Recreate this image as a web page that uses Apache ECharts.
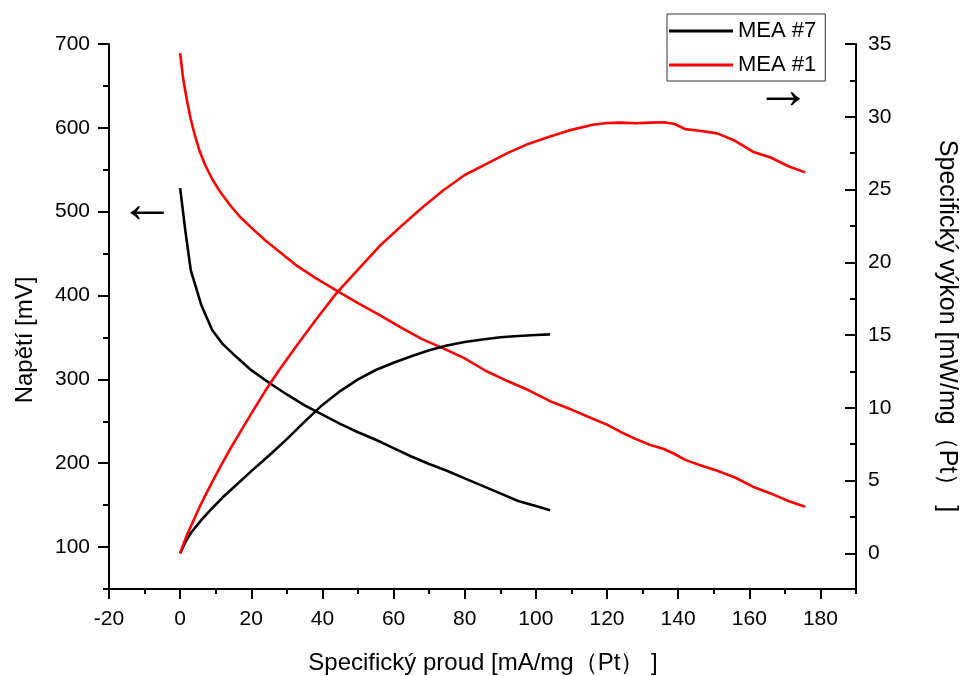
<!DOCTYPE html>
<html>
<head>
<meta charset="utf-8">
<script src="https://cdn.jsdelivr.net/npm/echarts@6/dist/echarts.min.js"></script>
<style>
  html, body { margin: 0; padding: 0; background: #ffffff; }
  #chart { width: 967px; height: 676px; }
</style>
</head>
<body>
<div id="chart"></div>
<script>
// Polarisation and power curves of two membrane electrode assemblies.
// Current density in mA/mg(Pt), voltage in mV, power density in mW/mg(Pt).

const current7 = [0, 1.5, 3, 6, 9, 12, 16, 20, 25, 30, 35, 40, 45, 50, 55, 60, 65, 70, 75, 80, 85, 90, 95, 100, 104];
const voltage7 = [528, 476, 430, 388, 359, 342, 326, 311, 296, 282, 269, 258, 247, 237, 228, 218, 208, 199, 191, 182, 173, 164, 155, 149, 144];
const power7   = [0, 0.8, 1.4, 2.3, 3.1, 3.85, 4.75, 5.65, 6.72, 7.85, 9.05, 10.2, 11.15, 11.95, 12.6, 13.1, 13.55, 13.95, 14.28, 14.52, 14.7, 14.85, 14.93, 15.0, 15.05];

const current1 = [0, 0.8, 1.9, 3, 4.2, 5.5, 7, 9, 11.2, 14, 16.8, 20, 23.9, 28, 33, 38, 44, 50, 56, 62, 68, 74, 80, 86, 92, 98, 104, 110, 116, 120, 124, 128, 132, 136, 139, 142, 146, 151, 156, 161, 166, 171, 175.7];
const voltage1 = [689, 660, 633, 610, 590, 572, 556, 539, 524, 508, 494, 481, 466, 452, 435, 421, 406, 391, 377, 362, 348, 337, 325, 310, 298, 287, 274, 264, 253, 246, 237, 229, 222, 217, 211, 204, 198, 191, 183, 172, 164, 155, 148];
const power1   = [0, 0.55, 1.25, 1.85, 2.5, 3.2, 3.95, 4.9, 5.9, 7.15, 8.3, 9.6, 11.15, 12.65, 14.35, 16.0, 17.9, 19.5, 21.1, 22.45, 23.75, 24.95, 26.0, 26.75, 27.5, 28.15, 28.65, 29.1, 29.45, 29.57, 29.6, 29.55, 29.6, 29.62, 29.5, 29.15, 29.04, 28.86, 28.35, 27.6, 27.2, 26.6, 26.18];

const currentTicks      = [-20, 0, 20, 40, 60, 80, 100, 120, 140, 160, 180];
const currentMinorTicks = [-10, 10, 30, 50, 70, 90, 110, 130, 150, 170, 190];
const voltageTicks      = [100, 200, 300, 400, 500, 600, 700];
const voltageMinorTicks = [50, 150, 250, 350, 450, 550, 650];
const powerTicks        = [0, 5, 10, 15, 20, 25, 30, 35];
const powerMinorTicks   = [2.5, 7.5, 12.5, 17.5, 22.5, 27.5, 32.5];

const FONT = "'Liberation Sans', Arial, Helvetica, sans-serif";
const INK = '#000000';
const RED = '#ff0000';

function pairs(xs, ys) {
  return xs.map((x, i) => [x, ys[i]]);
}

function mainAxis(extra) {
  return Object.assign({
    type: 'value',
    splitLine: { show: false },
    axisLine: { show: true, onZero: false, lineStyle: { color: INK, width: 2 } },
    axisPointer: { show: false }
  }, extra);
}

function minorAxis(extra) {
  return Object.assign({
    type: 'value',
    splitLine: { show: false },
    axisLine: { show: false, onZero: false },
    axisLabel: { show: false },
    axisPointer: { show: false }
  }, extra);
}

function tickLabels(values, margin) {
  return { show: true, color: INK, fontSize: 21, fontFamily: FONT, margin: margin, customValues: values };
}

function ticks(values, length, inside) {
  return { show: true, inside: !!inside, length: length, customValues: values, lineStyle: { color: INK, width: 2 } };
}

function titleText(x, y, rotation, text, size) {
  return {
    type: 'text', x: x, y: y, rotation: rotation,
    style: { text: text, fill: INK, fontSize: size, fontFamily: FONT,
             align: 'center', verticalAlign: 'middle', textAlign: 'center', textVerticalAlign: 'middle' }
  };
}

const chart = echarts.init(document.getElementById('chart'), null, { renderer: 'canvas' });

chart.setOption({
  animation: false,
  backgroundColor: '#ffffff',
  grid: { left: 109, right: 111, top: 44, bottom: 87, containLabel: false },
  legend: {
    orient: 'vertical',
    left: 667,
    top: 14,
    padding: [6, 9, 5, 2],
    itemGap: 12,
    itemWidth: 64,
    itemHeight: 3,
    icon: 'rect',
    borderColor: '#333333',
    borderWidth: 1,
    backgroundColor: '#ffffff',
    textStyle: { color: INK, fontSize: 22, fontFamily: FONT },
    data: ['MEA #7', 'MEA #1']
  },
  xAxis: [
    mainAxis({ min: -20, max: 190, position: 'bottom',
      axisTick: ticks(currentTicks, 10), axisLabel: tickLabels(currentTicks, 20) }),
    minorAxis({ min: -20, max: 190, position: 'bottom',
      axisTick: ticks(currentMinorTicks, 5) })
  ],
  yAxis: [
    mainAxis({ min: 50, max: 700, position: 'left',
      axisTick: ticks(voltageTicks, 11), axisLabel: tickLabels(voltageTicks, 19) }),
    minorAxis({ min: 50, max: 700, position: 'left',
      axisTick: ticks(voltageMinorTicks, 6) }),
    mainAxis({ min: -2.45, max: 35, position: 'right',
      axisTick: ticks(powerTicks, 11, true), axisLabel: tickLabels(powerTicks, 12) }),
    minorAxis({ min: -2.45, max: 35, position: 'right',
      axisTick: ticks(powerMinorTicks, 6, true) })
  ],
  series: [
    { name: 'MEA #7', type: 'line', xAxisIndex: 0, yAxisIndex: 0,
      data: pairs(current7, voltage7), symbol: 'none', smooth: false,
      color: INK, lineStyle: { color: INK, width: 2.6 } },
    { name: 'MEA #1', type: 'line', xAxisIndex: 0, yAxisIndex: 0,
      data: pairs(current1, voltage1), symbol: 'none', smooth: false,
      color: RED, lineStyle: { color: RED, width: 2.6 } },
    { name: 'MEA #7', type: 'line', xAxisIndex: 0, yAxisIndex: 2,
      data: pairs(current7, power7), symbol: 'none', smooth: false,
      color: INK, lineStyle: { color: INK, width: 2.6 } },
    { name: 'MEA #1', type: 'line', xAxisIndex: 0, yAxisIndex: 2,
      data: pairs(current1, power1), symbol: 'none', smooth: false,
      color: RED, lineStyle: { color: RED, width: 2.6 } }
  ],
  graphic: [
    titleText(483, 663, 0, 'Specifický proud [mA/mg（Pt） ]', 24),
    titleText(25, 340, Math.PI / 2, 'Napětí [mV]', 24),
    titleText(947, 326, -Math.PI / 2, 'Specifický výkon [mW/mg（Pt） ]', 25),
    // direction hints: voltage curves read on the left axis, power curves on the right
    titleText(147, 207, 0, '←', 56),
    titleText(783, 93, 0, '→', 56)
  ]
});
</script>
</body>
</html>
